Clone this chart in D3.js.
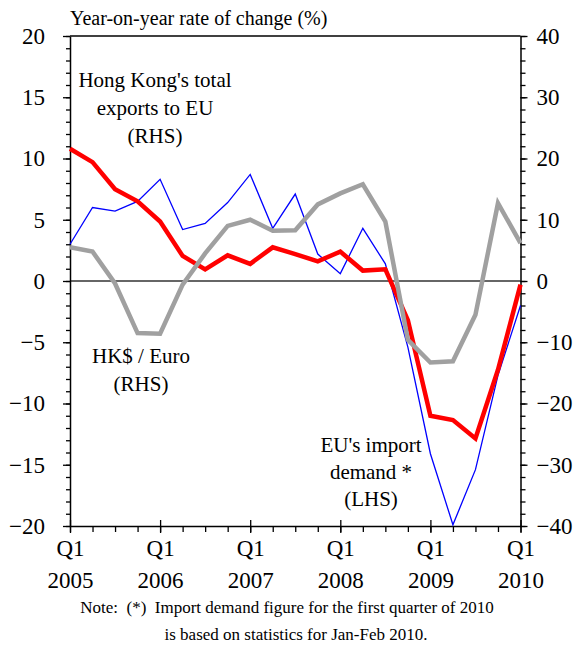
<!DOCTYPE html>
<html>
<head>
<meta charset="utf-8">
<script src="https://cdn.jsdelivr.net/npm/d3@7"></script>
<style>
  #chart svg text, #chart svg tspan { font-family: "Liberation Serif", "Times New Roman", Tinos, serif !important; }
</style>
</head>
<body style="margin:0">
<div id="chart"></div>
<script>
// quarters Q1 2005 .. Q1 2010
const quarters = [
  "2005Q1", "2005Q2", "2005Q3", "2005Q4",
  "2006Q1", "2006Q2", "2006Q3", "2006Q4",
  "2007Q1", "2007Q2", "2007Q3", "2007Q4",
  "2008Q1", "2008Q2", "2008Q3", "2008Q4",
  "2009Q1", "2009Q2", "2009Q3", "2009Q4",
  "2010Q1"
];

// EU's import demand (LHS), thin blue
const importDemand = [3.0, 6.0, 5.7, 6.5, 8.3, 4.2, 4.7, 6.4, 8.7, 4.3, 7.1, 2.2, 0.6, 4.3, 1.4, -5.4, -14.1, -19.9, -15.4, -7.7, -2.0];

// Hong Kong's total exports to EU (RHS), red
const hkExports = [21.6, 19.4, 15.0, 13.0, 9.7, 4.1, 1.9, 4.2, 2.8, 5.5, 4.4, 3.2, 4.8, 1.7, 1.9, -6.4, -22.0, -22.7, -25.7, -14.5, -0.6];

// HK$ / Euro (RHS), grey
const hkEuro = [5.5, 4.8, -0.4, -8.5, -8.6, -0.6, 4.5, 9.0, 10.0, 8.2, 8.3, 12.5, 14.3, 15.8, 9.7, -9.6, -13.3, -13.1, -5.5, 12.7, 6.2];

// axis ticks
const leftMajor = [-20, -15, -10, -5, 0, 5, 10, 15, 20];
const rightMajor = [-40, -30, -20, -10, 0, 10, 20, 30, 40];
const xMajor = ["2005Q1", "2006Q1", "2007Q1", "2008Q1", "2009Q1", "2010Q1"];

const SERIF = `"Liberation Serif", "Times New Roman", Tinos, serif`;

const width = 582, height = 648;
const margin = { top: 36, right: 61.5, bottom: 122, left: 70 };
const plotW = width - margin.left - margin.right;
const plotH = height - margin.top - margin.bottom;

const svg = d3.select("#chart").append("svg")
  .attr("width", width)
  .attr("height", height)
  .style("font-family", SERIF, "important");

const x = d3.scalePoint().domain(quarters).range([margin.left, margin.left + plotW]);
const yL = d3.scaleLinear().domain([-20, 20]).range([margin.top + plotH, margin.top]);
const yR = d3.scaleLinear().domain([-40, 40]).range([margin.top + plotH, margin.top]);

// zero line
svg.append("line")
  .attr("x1", margin.left).attr("x2", margin.left + plotW)
  .attr("y1", yL(0)).attr("y2", yL(0))
  .attr("stroke", "#333").attr("stroke-width", 1.5);

// top border
svg.append("line")
  .attr("x1", margin.left).attr("x2", margin.left + plotW)
  .attr("y1", margin.top).attr("y2", margin.top)
  .attr("stroke", "#000").attr("stroke-width", 1.5);

// left axis: minor then major
svg.append("g")
  .attr("transform", `translate(${margin.left},0)`)
  .call(d3.axisLeft(yL).tickValues(d3.range(-20, 21, 1)).tickSize(4).tickFormat(""))
  .call(g => g.select(".domain").remove())
  .call(g => g.selectAll("text").remove());

const gLeft = svg.append("g")
  .attr("transform", `translate(${margin.left},0)`)
  .call(d3.axisLeft(yL).tickValues(leftMajor).tickSizeInner(7).tickSizeOuter(0).tickPadding(18));

// right axis
svg.append("g")
  .attr("transform", `translate(${margin.left + plotW},0)`)
  .call(d3.axisRight(yR).tickValues(d3.range(-40, 41, 2)).tickSize(5).tickFormat(""))
  .call(g => g.select(".domain").remove())
  .call(g => g.selectAll("text").remove());

const gRight = svg.append("g")
  .attr("transform", `translate(${margin.left + plotW},0)`)
  .call(d3.axisRight(yR).tickValues(rightMajor).tickSizeInner(7).tickSizeOuter(0).tickPadding(9));

// bottom axis
svg.append("g")
  .attr("transform", `translate(0,${margin.top + plotH})`)
  .call(d3.axisBottom(x).tickValues(quarters).tickSize(6).tickFormat(""))
  .call(g => g.select(".domain").remove())
  .call(g => g.selectAll("text").remove());

const gBottom = svg.append("g")
  .attr("transform", `translate(0,${margin.top + plotH})`)
  .call(d3.axisBottom(x).tickValues(xMajor).tickSizeInner(7).tickSizeOuter(0).tickPadding(12)
    .tickFormat(""));

gBottom.selectAll(".tick line").attr("y1", -6);
gBottom.selectAll(".tick text").each(function(d) {
  const t = d3.select(this).attr("dy", null).attr("y", 30);
  t.append("tspan").attr("x", 0).text("Q" + d.slice(5));
  t.append("tspan").attr("x", 0).attr("dy", 32).text(d.slice(0, 4));
});

svg.selectAll("g").attr("font-family", null).attr("font-size", null);
[gLeft, gRight, gBottom].forEach(g => {
  g.selectAll(".domain").attr("stroke", "#000").attr("stroke-width", 1.5);
  g.selectAll(".tick text").attr("fill", "#000")
    .style("font-family", SERIF, "important").style("font-size", "23px");
});
svg.selectAll(".tick line").attr("stroke", "#000").attr("stroke-width", 1.3);

// lines
const lineL = d3.line().x((d, i) => x(quarters[i])).y(d => yL(d));
const lineR = d3.line().x((d, i) => x(quarters[i])).y(d => yR(d));

svg.append("path").datum(importDemand)
  .attr("d", lineL).attr("fill", "none")
  .attr("stroke", "#0000ff").attr("stroke-width", 1.3);

svg.append("path").datum(hkExports)
  .attr("d", lineR).attr("fill", "none")
  .attr("stroke", "#ff0000").attr("stroke-width", 4.5);

svg.append("path").datum(hkEuro)
  .attr("d", lineR).attr("fill", "none")
  .attr("stroke", "#a0a0a0").attr("stroke-width", 4.5);

// title, annotations and footnote
const labels = [
  { x: 70, y: 25, size: 20, anchor: "start", text: "Year-on-year rate of change (%)" },
  { x: 155, y: 87, size: 21, anchor: "middle", text: "Hong Kong's total" },
  { x: 155, y: 115, size: 21, anchor: "middle", text: "exports to EU" },
  { x: 155, y: 143, size: 21, anchor: "middle", text: "(RHS)" },
  { x: 141, y: 363, size: 21, anchor: "middle", text: "HK$ / Euro" },
  { x: 141, y: 391, size: 21, anchor: "middle", text: "(RHS)" },
  { x: 371, y: 452, size: 21, anchor: "middle", text: "EU's import" },
  { x: 371, y: 479, size: 21, anchor: "middle", text: "demand *" },
  { x: 371, y: 506, size: 21, anchor: "middle", text: "(LHS)" },
  { x: 287, y: 613, size: 17, anchor: "middle", text: "Note:\u00a0 (*)\u00a0 Import demand figure for the first quarter of 2010" },
  { x: 296, y: 640, size: 17, anchor: "middle", text: "is based on statistics for Jan-Feb 2010." }
];

svg.selectAll("text.label").data(labels).join("text")
  .attr("class", "label")
  .attr("x", d => d.x).attr("y", d => d.y)
  .attr("text-anchor", d => d.anchor)
  .style("font-family", SERIF, "important")
  .style("font-size", d => d.size + "px")
  .text(d => d.text);
</script>
</body>
</html>
